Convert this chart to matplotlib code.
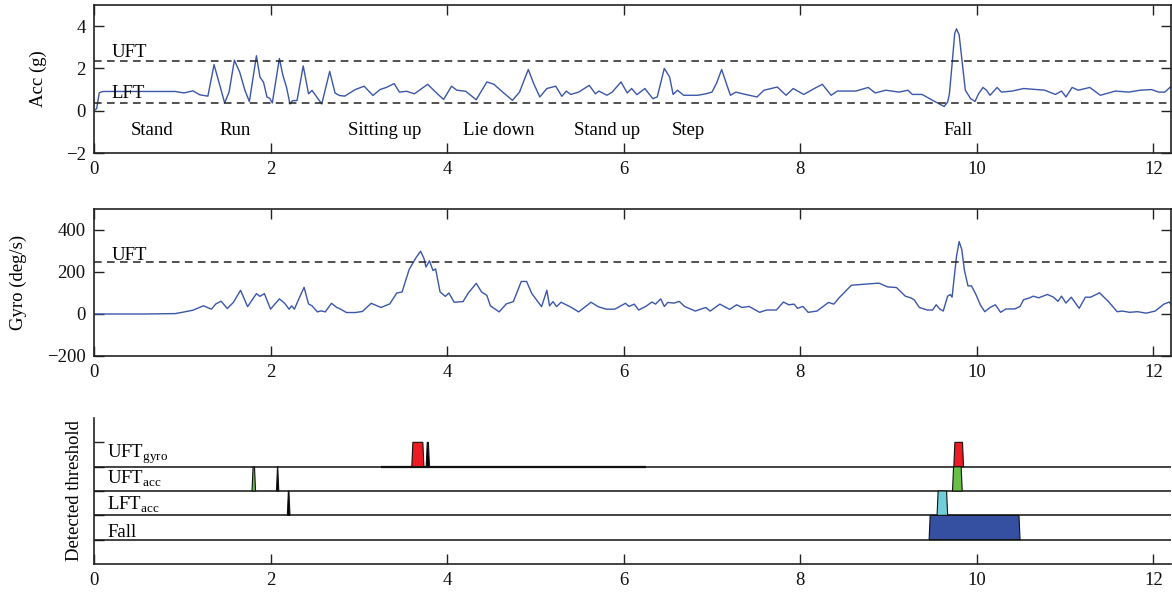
import matplotlib
matplotlib.use("Agg")
import matplotlib.pyplot as plt
from matplotlib.patches import Polygon

# ---------------- data ----------------
acc_t = [0.00, 0.03, 0.06, 0.10, 0.30, 0.60, 0.92, 1.02, 1.12, 1.20, 1.29, 1.36, 1.48, 1.53, 1.59,
         1.65, 1.71, 1.76, 1.84, 1.88, 1.92, 1.96, 1.99, 2.02, 2.10, 2.14, 2.18, 2.22, 2.25, 2.30,
         2.37, 2.43, 2.47, 2.58, 2.67, 2.73, 2.78, 2.84, 2.96, 3.06, 3.16, 3.24, 3.31, 3.40, 3.46,
         3.54, 3.63, 3.78, 3.86, 3.96, 4.05, 4.11, 4.21, 4.33, 4.45, 4.53, 4.63, 4.74, 4.82, 4.92,
         4.98, 5.05, 5.13, 5.23, 5.30, 5.35, 5.40, 5.49, 5.61, 5.68, 5.72, 5.81, 5.87, 5.97, 6.04,
         6.09, 6.15, 6.24, 6.33, 6.38, 6.46, 6.52, 6.56, 6.61, 6.68, 6.84, 6.93, 7.00, 7.05, 7.11,
         7.17, 7.21, 7.27, 7.38, 7.51, 7.59, 7.74, 7.84, 7.92, 8.04, 8.16, 8.25, 8.35, 8.42, 8.63,
         8.77, 8.85, 8.97, 9.12, 9.22, 9.27, 9.38, 9.50, 9.63, 9.67, 9.69, 9.72, 9.75, 9.77, 9.80,
         9.84, 9.87, 9.93, 9.98, 10.02, 10.07, 10.11, 10.15, 10.23, 10.28, 10.40, 10.53, 10.77,
         10.89, 10.96, 11.01, 11.08, 11.15, 11.28, 11.40, 11.57, 11.72, 11.85, 11.98, 12.06, 12.13,
         12.20]
acc_v = [0.00, 0.10, 0.85, 0.91, 0.91, 0.91, 0.91, 0.84, 0.94, 0.75, 0.69, 2.18, 0.37, 0.88, 2.39,
         1.83, 0.96, 0.43, 2.60, 1.59, 1.35, 0.64, 0.59, 0.37, 2.47, 1.67, 1.12, 0.32, 0.48, 0.48,
         2.12, 0.80, 0.96, 0.32, 1.86, 0.84, 0.72, 0.69, 1.00, 1.16, 0.72, 1.00, 1.10, 1.28, 0.88,
         0.92, 0.80, 1.25, 0.92, 0.53, 1.16, 0.97, 0.92, 0.52, 1.36, 1.25, 0.88, 0.49, 0.88, 1.95,
         1.29, 0.65, 1.05, 1.16, 0.68, 0.93, 0.77, 0.88, 1.20, 0.80, 0.93, 0.73, 0.88, 1.36, 0.84,
         1.05, 0.76, 1.05, 0.57, 0.65, 2.00, 1.60, 0.77, 0.97, 0.73, 0.73, 0.80, 0.88, 1.28, 1.95,
         1.20, 0.73, 0.88, 0.77, 0.65, 0.97, 1.12, 0.73, 1.05, 0.77, 1.05, 1.25, 0.73, 0.93, 0.93,
         1.10, 0.84, 0.97, 0.88, 0.97, 0.77, 0.77, 0.49, 0.20, 0.41, 0.80, 2.20, 3.66, 3.87, 3.59,
         2.08, 0.97, 0.57, 0.44, 0.80, 1.10, 0.97, 0.73, 1.10, 0.88, 0.93, 1.05, 0.97,
         0.77, 0.93, 0.65, 1.10, 0.97, 1.10, 0.73, 0.93, 0.88, 0.97, 1.00, 0.88, 0.88,
         1.15]

gyro_t = [0.00, 0.57, 0.92, 1.00, 1.12, 1.24, 1.33, 1.38, 1.44, 1.51, 1.58, 1.66, 1.74, 1.84, 1.88,
          1.93, 2.00, 2.10, 2.16, 2.21, 2.24, 2.27, 2.33, 2.38, 2.43, 2.47, 2.53, 2.57, 2.62, 2.69,
          2.75, 2.78, 2.86, 2.96, 3.04, 3.14, 3.25, 3.35, 3.43, 3.49, 3.57, 3.65, 3.70, 3.74, 3.76,
          3.80, 3.84, 3.87, 3.92, 3.98, 4.02, 4.08, 4.18, 4.24, 4.33, 4.39, 4.45, 4.49, 4.59, 4.67,
          4.75, 4.84, 4.90, 4.96, 5.07, 5.13, 5.16, 5.20, 5.24, 5.29, 5.41, 5.49, 5.63, 5.71, 5.80,
          5.90, 6.02, 6.06, 6.12, 6.17, 6.25, 6.32, 6.36, 6.42, 6.46, 6.50, 6.57, 6.63, 6.69, 6.81,
          6.93, 6.98, 7.09, 7.20, 7.28, 7.34, 7.42, 7.54, 7.62, 7.73, 7.81, 7.87, 7.93, 7.97, 8.03,
          8.09, 8.19, 8.32, 8.38, 8.44, 8.58, 8.74, 8.89, 8.99, 9.09, 9.19, 9.25, 9.29, 9.35, 9.44,
          9.50, 9.54, 9.58, 9.62, 9.67, 9.70, 9.72, 9.77, 9.80, 9.83, 9.86, 9.90, 9.94, 9.99, 10.04,
          10.09, 10.15, 10.21, 10.27, 10.33, 10.43, 10.49, 10.53, 10.60, 10.64, 10.70, 10.80, 10.87,
          10.92, 10.96, 11.01, 11.07, 11.16, 11.23, 11.29, 11.39, 11.49, 11.59, 11.65, 11.73, 11.82,
          11.92, 12.02, 12.12, 12.18, 12.20]
gyro_v = [0, 0, 2, 8, 18, 39, 23, 48, 61, 26, 56, 113, 35, 97, 84,
          97, 23, 72, 51, 23, 39, 23, 81, 127, 48, 39, 10, 15, 10, 51,
          31, 26, 7, 7, 12, 51, 31, 48, 100, 105, 212, 270, 299, 262, 224,
          253, 207, 215, 105, 84, 100, 56, 59, 100, 146, 105, 89, 39, 10, 48,
          59, 155, 155, 97, 35, 113, 39, 59, 35, 56, 31, 10, 56, 35, 23,
          23, 51, 36, 47, 19, 36, 57, 47, 72, 36, 55, 52, 60, 36, 14,
          31, 14, 47, 22, 44, 31, 36, 8, 19, 19, 57, 44, 47, 27, 36,
          8, 14, 55, 47, 77, 137, 142, 147, 129, 126, 85, 77, 68, 31, 19,
          19, 44, 24, 14, 85, 93, 80, 274, 345, 307, 208, 134, 134, 93, 44,
          11, 31, 44, 8, 24, 24, 36, 68, 77, 85, 77, 93, 80,
          60, 85, 52, 80, 27, 80, 80, 101, 60, 11, 14, 8, 11,
          4, 14, 47, 57, 45]

acc_uft = 2.36
acc_lft = 0.38
gyro_uft = 250

activity_labels = ["Stand", "Run", "Sitting up", "Lie down", "Stand up", "Step", "Fall"]
activity_x = [0.415, 1.425, 2.877, 4.18, 5.44, 6.55, 9.62]

det_rows = ["Fall", "LFT$_{\\mathregular{acc}}$", "UFT$_{\\mathregular{acc}}$", "UFT$_{\\mathregular{gyro}}$"]
det_base = [1, 2, 3, 4]
# detections: (row index, start, end, colour)
det_pulses = [
    (0, 9.46, 10.49, "#3550a0"),
    (1, 2.19, 2.22, "black"),
    (1, 9.55, 9.67, "#6ecfdb"),
    (2, 1.79, 1.83, "#6abf45"),
    (2, 2.067, 2.093, "black"),
    (2, 9.725, 9.835, "#6abf45"),
    (3, 3.60, 3.737, "#ed1c24"),
    (3, 3.763, 3.80, "black"),
    (3, 9.74, 9.85, "#ed1c24"),
]

# ---------------- style ----------------
plt.rcParams["font.family"] = ["Liberation Serif", "DejaVu Serif"]
plt.rcParams["mathtext.fontset"] = "custom"
plt.rcParams["mathtext.rm"] = "Liberation Serif"
plt.rcParams["font.size"] = 13.5
line_col = "#3a56a8"
spine_col = "#222222"

W, H = 1172, 592
fig = plt.figure(figsize=(W / 100, H / 100), dpi=100)

def frac(l, t, r, b):
    return [l / W, 1 - b / H, (r - l) / W, (b - t) / H]

XMAX = 12.2

def style_box(ax):
    for s in ax.spines.values():
        s.set_linewidth(1.2)
        s.set_color(spine_col)
    ax.tick_params(direction="in", length=7, width=1.0, top=True, right=True,
                   colors=spine_col, labelcolor="#111111", pad=6)
    ax.set_xlim(0, XMAX)
    ax.set_xticks([0, 2, 4, 6, 8, 10, 12])
    ax.xaxis.set_tick_params(pad=6)

# --- Acc panel
ax1 = fig.add_axes(frac(94, 5, 1171, 153))
style_box(ax1)
ax1.plot(acc_t, acc_v, color=line_col, lw=1.0)
ax1.axhline(acc_uft, color="#222222", lw=1.1, ls=(0, (5, 3.5)))
ax1.axhline(acc_lft, color="#222222", lw=1.1, ls=(0, (5, 3.5)))
ax1.set_ylim(-2, 5)
ax1.set_yticks([-2, 0, 2, 4])
ax1.set_yticklabels(["\u22122", "0", "2", "4"])
ax1.text(0.20, 2.55, "UFT", va="baseline", ha="left")
ax1.text(0.20, 0.62, "LFT", va="baseline", ha="left")
for lab, x in zip(activity_labels, activity_x):
    ax1.text(x, -1.13, lab, va="baseline", ha="left")
ax1.set_ylabel("Acc (g)")
ax1.yaxis.set_label_coords(-0.044, 0.5)

# --- Gyro panel
ax2 = fig.add_axes(frac(94, 209, 1171, 356))
style_box(ax2)
ax2.plot(gyro_t, gyro_v, color=line_col, lw=1.0)
ax2.axhline(gyro_uft, color="#222222", lw=1.1, ls=(0, (5, 3.5)))
ax2.set_ylim(-200, 500)
ax2.set_yticks([-200, 0, 200, 400])
ax2.set_yticklabels(["\u2212200", "0", "200", "400"])
ax2.text(0.20, 256, "UFT", va="baseline", ha="left")
ax2.set_ylabel("Gyro (deg/s)")
ax2.yaxis.set_label_coords(-0.0625, 0.5)

# --- Detection panel
ax3 = fig.add_axes(frac(94, 418, 1171, 564))
ax3.set_xlim(0, XMAX)
ax3.set_ylim(0, 6)
for s in ["top", "right"]:
    ax3.spines[s].set_visible(False)
for s in ["left", "bottom"]:
    ax3.spines[s].set_linewidth(1.2)
    ax3.spines[s].set_color(spine_col)
ax3.tick_params(direction="in", length=7, width=1.0, colors=spine_col,
                labelcolor="#111111", pad=6)
ax3.set_xticks([0, 2, 4, 6, 8, 10, 12])
ax3.set_yticks([1, 2, 3, 4, 5])
ax3.set_yticklabels([])
for b in det_base:
    ax3.plot([0, XMAX], [b, b], color="#111111", lw=1.1, solid_capstyle="butt")
ax3.plot([3.25, 6.25], [4, 4], color="#111111", lw=1.6, solid_capstyle="butt")

ramp = 0.012
for row, s, e, col in det_pulses:
    b = det_base[row]
    w = e - s
    r = min(ramp, w / 2.2)
    poly = Polygon([(s, b), (s + r, b + 1), (e - r, b + 1), (e, b)], closed=True,
                   facecolor=col, edgecolor="#111111", lw=0.8, zorder=3)
    ax3.add_patch(poly)

label_y = [1.1, 2.22, 3.31, 4.35]
for lab, y in zip(det_rows, label_y):
    ax3.text(0.15, y, lab, va="baseline", ha="left")
ax3.set_ylabel("Detected threshold")
ax3.yaxis.set_label_coords(-0.0105, 0.5)

fig.savefig("out.png", dpi=100)
